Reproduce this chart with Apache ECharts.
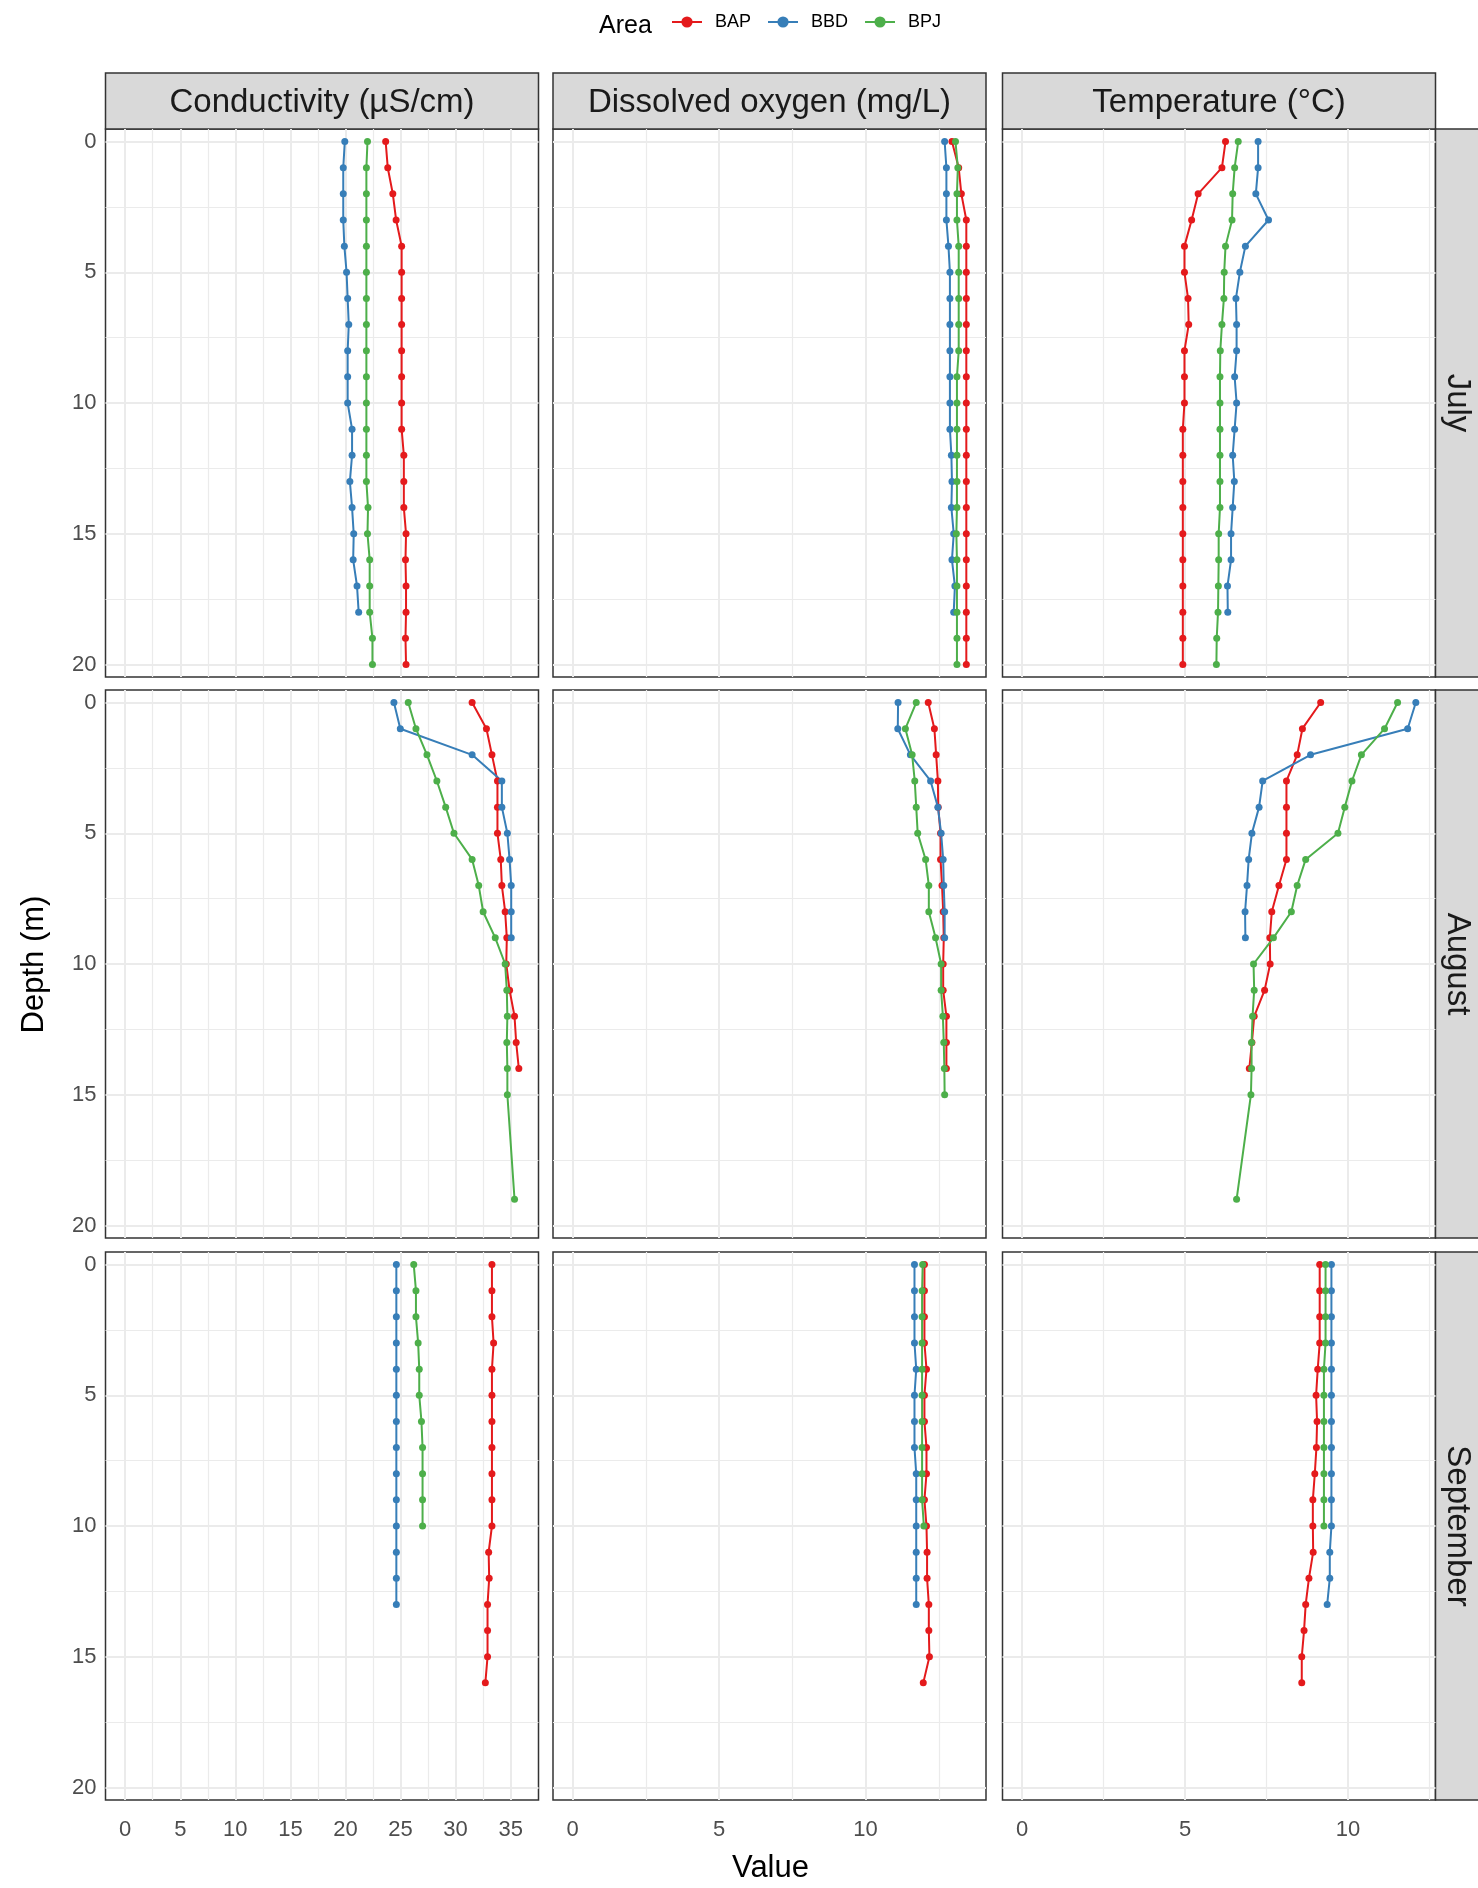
<!DOCTYPE html>
<html><head><meta charset="utf-8">
<script src="https://cdn.jsdelivr.net/npm/echarts@6/dist/echarts.min.js"></script>
<style>html,body{margin:0;padding:0;background:#fff}#chart{width:1478px;height:1888px}</style>
</head><body><div id="chart"></div>
<script>
// ---------- categories / ticks ----------
const areas = ['BAP', 'BBD', 'BPJ'];
const months = ['July', 'August', 'September'];
const variables = ['Conductivity (µS/cm)', 'Dissolved oxygen (mg/L)', 'Temperature (°C)'];
const xTicksCond = [0, 5, 10, 15, 20, 25, 30, 35];
const xTicksDO = [0, 5, 10];
const xTicksTemp = [0, 5, 10];
const yTicks = [0, 5, 10, 15, 20];

// ---------- depths (m) ----------
const depthJulBAP = [0,1,2,3,4,5,6,7,8,9,10,11,12,13,14,15,16,17,18,19,20];
const depthJulBBD = [0,1,2,3,4,5,6,7,8,9,10,11,12,13,14,15,16,17,18];
const depthJulBPJ = [0,1,2,3,4,5,6,7,8,9,10,11,12,13,14,15,16,17,18,19,20];
const depthAugBAP = [0,1,2,3,4,5,6,7,8,9,10,11,12,13,14];
const depthAugBBD = [0,1,2,3,4,5,6,7,8,9];
const depthAugBPJ = [0,1,2,3,4,5,6,7,8,9,10,11,12,13,14,15,19];
const depthAugBPJdo = [0,1,2,3,4,5,6,7,8,9,10,11,12,13,14,15];
const depthSepBAP = [0,1,2,3,4,5,6,7,8,9,10,11,12,13,14,15,16];
const depthSepBBD = [0,1,2,3,4,5,6,7,8,9,10,11,12,13];
const depthSepBPJ = [0,1,2,3,4,5,6,7,8,9,10];

// ---------- July ----------
const condJulBAP = [23.65,23.84,24.3,24.6,25.1,25.1,25.1,25.1,25.1,25.1,25.1,25.1,25.3,25.3,25.3,25.5,25.45,25.5,25.5,25.45,25.5];
const condJulBBD = [19.94,19.8,19.8,19.8,19.9,20.1,20.2,20.3,20.2,20.2,20.2,20.6,20.6,20.4,20.6,20.75,20.7,21.05,21.2];
const condJulBPJ = [22.0,21.9,21.9,21.9,21.9,21.9,21.9,21.9,21.9,21.9,21.9,21.9,21.9,21.9,22.05,22.0,22.2,22.2,22.2,22.45,22.45];
const doJulBAP = [12.95,13.18,13.27,13.44,13.44,13.44,13.44,13.44,13.44,13.44,13.44,13.44,13.44,13.44,13.44,13.44,13.44,13.44,13.44,13.44,13.44];
const doJulBBD = [12.70,12.76,12.76,12.76,12.83,12.88,12.88,12.88,12.88,12.88,12.88,12.88,12.93,12.95,12.93,13.01,12.95,13.05,13.01];
const doJulBPJ = [13.07,13.15,13.12,13.12,13.18,13.18,13.18,13.18,13.18,13.12,13.12,13.12,13.12,13.12,13.12,13.10,13.12,13.12,13.12,13.12,13.12];
const tempJulBAP = [6.24,6.13,5.40,5.20,4.98,4.98,5.09,5.11,4.98,4.98,4.98,4.93,4.93,4.93,4.93,4.93,4.93,4.93,4.93,4.93,4.93];
const tempJulBBD = [7.24,7.24,7.17,7.56,6.85,6.68,6.56,6.58,6.58,6.52,6.58,6.52,6.46,6.51,6.46,6.41,6.41,6.30,6.31];
const tempJulBPJ = [6.63,6.52,6.46,6.44,6.24,6.20,6.19,6.13,6.08,6.07,6.07,6.07,6.07,6.07,6.07,6.03,6.03,6.02,6.01,5.97,5.96];

// ---------- August ----------
const condAugBAP = [31.5,32.8,33.3,33.8,33.8,33.8,34.1,34.2,34.5,34.65,34.6,34.9,35.35,35.5,35.74];
const condAugBBD = [24.4,24.98,31.5,34.2,34.2,34.7,34.9,35.05,35.05,35.05];
const condAugBPJ = [25.7,26.4,27.4,28.3,29.1,29.85,31.5,32.1,32.5,33.6,34.5,34.65,34.7,34.65,34.7,34.7,35.35];
const doAugBAP = [12.14,12.35,12.41,12.47,12.48,12.56,12.56,12.61,12.65,12.67,12.65,12.65,12.76,12.76,12.76];
const doAugBBD = [11.11,11.10,11.53,12.22,12.47,12.58,12.65,12.67,12.70,12.70];
const doAugBPJ = [11.73,11.36,11.59,11.68,11.73,11.78,12.05,12.16,12.16,12.39,12.58,12.58,12.64,12.67,12.69,12.70];
const tempAugBAP = [9.16,8.60,8.44,8.11,8.11,8.11,8.11,7.88,7.66,7.60,7.61,7.44,7.12,7.05,6.97];
const tempAugBBD = [12.08,11.83,8.85,7.38,7.27,7.05,6.95,6.90,6.84,6.85];
const tempAugBPJ = [11.52,11.12,10.41,10.12,9.90,9.69,8.70,8.44,8.26,7.71,7.10,7.12,7.07,7.04,7.04,7.02,6.58];

// ---------- September ----------
const condSepBAP = [33.3,33.3,33.3,33.45,33.3,33.3,33.3,33.3,33.3,33.3,33.3,33.0,33.05,32.9,32.9,32.9,32.7];
const condSepBBD = [24.62,24.62,24.62,24.62,24.62,24.62,24.62,24.62,24.62,24.62,24.62,24.62,24.62,24.62];
const condSepBPJ = [26.2,26.4,26.4,26.6,26.7,26.7,26.9,27.0,27.0,27.0,27.0];
const doSepBAP = [12.01,12.01,12.01,12.01,12.08,12.01,12.01,12.08,12.08,12.01,12.08,12.10,12.10,12.16,12.16,12.18,11.97];
const doSepBBD = [11.67,11.67,11.67,11.67,11.73,11.67,11.67,11.67,11.73,11.73,11.73,11.73,11.73,11.73];
const doSepBPJ = [11.95,11.93,11.93,11.93,11.93,11.93,11.93,11.93,11.93,11.93,11.99];
const tempSepBAP = [9.13,9.13,9.13,9.13,9.07,9.02,9.05,9.03,8.98,8.92,8.92,8.93,8.80,8.70,8.65,8.58,8.58];
const tempSepBBD = [9.49,9.49,9.49,9.49,9.49,9.49,9.49,9.49,9.49,9.49,9.49,9.44,9.44,9.36];
const tempSepBPJ = [9.31,9.31,9.31,9.31,9.26,9.26,9.26,9.26,9.26,9.26,9.26];

// ---------- assemble panels: [row=month][col=variable][area] ----------
const panels = [
  [ [[depthJulBAP,condJulBAP],[depthJulBBD,condJulBBD],[depthJulBPJ,condJulBPJ]],
    [[depthJulBAP,doJulBAP],[depthJulBBD,doJulBBD],[depthJulBPJ,doJulBPJ]],
    [[depthJulBAP,tempJulBAP],[depthJulBBD,tempJulBBD],[depthJulBPJ,tempJulBPJ]] ],
  [ [[depthAugBAP,condAugBAP],[depthAugBBD,condAugBBD],[depthAugBPJ,condAugBPJ]],
    [[depthAugBAP,doAugBAP],[depthAugBBD,doAugBBD],[depthAugBPJdo,doAugBPJ]],
    [[depthAugBAP,tempAugBAP],[depthAugBBD,tempAugBBD],[depthAugBPJ,tempAugBPJ]] ],
  [ [[depthSepBAP,condSepBAP],[depthSepBBD,condSepBBD],[depthSepBPJ,condSepBPJ]],
    [[depthSepBAP,doSepBAP],[depthSepBBD,doSepBBD],[depthSepBPJ,doSepBPJ]],
    [[depthSepBAP,tempSepBAP],[depthSepBBD,tempSepBBD],[depthSepBPJ,tempSepBPJ]] ]
];
const xTicksByCol = [xTicksCond, xTicksDO, xTicksTemp];

// ---------- layout & style ----------
const FONT = '"Liberation Sans", Arial, sans-serif';
const colors = { BAP: '#E41A1C', BBD: '#377EB8', BPJ: '#4DAF4A' };
const colLeft = [105.5, 553, 1002.5];
const colWidth = 433;
const rowTop = [129, 690, 1252];
const rowHeight = 548;
const stripTop = 73, stripH = 56;
const yMin = -0.48, yMax = 20.48;

// x limits per column: data range from 0 expanded by 5 %
const xLimits = [0, 1, 2].map(c => {
  let mx = 0;
  panels.forEach(row => row[c].forEach(p => p[1].forEach(v => { if (v > mx) mx = v; })));
  return [-0.05 * mx, 1.05 * mx];
});

function minorsOf(ticks, lo, hi) {
  const step = ticks[1] - ticks[0];
  const out = [];
  for (let v = ticks[0] - step / 2; v < hi; v += step) {
    if (v > lo + 0.05 && v < hi - 0.05) out.push(v);
  }
  return out;
}

const grids = [], xAxes = [], yAxes = [], series = [];
for (let r = 0; r < 3; r++) {
  for (let c = 0; c < 3; c++) {
    const i = r * 3 + c;
    const [xlo, xhi] = xLimits[c];
    const xt = xTicksByCol[c];
    grids.push({
      left: colLeft[c], top: rowTop[r], width: colWidth, height: rowHeight,
      show: true, backgroundColor: '#fff', borderColor: '#333333', borderWidth: 1.5
    });
    xAxes.push({
      gridIndex: i, type: 'value', min: xlo, max: xhi,
      axisLine: { show: false }, splitLine: { show: false },
      axisTick: { show: r === 2, customValues: xt, length: 7, lineStyle: { color: '#333333', width: 1.5 } },
      axisLabel: { show: r === 2, customValues: xt, fontSize: 22, color: '#4D4D4D', margin: 19, fontFamily: FONT }
    });
    yAxes.push({
      gridIndex: i, type: 'value', inverse: true, min: yMin, max: yMax,
      axisLine: { show: false }, splitLine: { show: false },
      axisTick: { show: c === 0, customValues: yTicks, length: 6, lineStyle: { color: '#333333', width: 1.5 } },
      axisLabel: { show: c === 0, customValues: yTicks, fontSize: 22, color: '#4D4D4D', margin: 9, fontFamily: FONT }
    });
    // grid lines via markLines on the panel's own axes
    const ml = [];
    xt.forEach(v => ml.push({ xAxis: v, lineStyle: { width: 2 } }));
    minorsOf(xt, xlo, xhi).forEach(v => ml.push({ xAxis: v, lineStyle: { width: 1.2 } }));
    yTicks.forEach(v => ml.push({ yAxis: v, lineStyle: { width: 2 } }));
    minorsOf(yTicks, yMin, yMax).forEach(v => ml.push({ yAxis: v, lineStyle: { width: 1.2 } }));
    series.push({
      type: 'line', xAxisIndex: i, yAxisIndex: i, data: [], silent: true, z: 1,
      markLine: {
        silent: true, z: 1, zlevel: 0, symbol: ['none', 'none'], animation: false,
        label: { show: false }, emphasis: { disabled: true },
        lineStyle: { color: '#EBEBEB', type: 'solid' }, data: ml
      }
    });
    areas.forEach((a, k) => {
      const [dep, val] = panels[r][c][k];
      series.push({
        type: 'line', name: a, xAxisIndex: i, yAxisIndex: i, z: 3,
        data: val.map((v, j) => [v, dep[j]]),
        symbol: 'circle', symbolSize: 7, showSymbol: true,
        lineStyle: { color: colors[a], width: 2 },
        itemStyle: { color: colors[a] },
        emphasis: { disabled: true }, animation: false
      });
    });
  }
}

// strips and titles
const graphics = [];
for (let c = 0; c < 3; c++) {
  graphics.push({ type: 'rect', shape: { x: colLeft[c], y: stripTop, width: colWidth, height: stripH },
    style: { fill: '#D9D9D9', stroke: '#333333', lineWidth: 1.5 } });
  graphics.push({ type: 'text', x: colLeft[c] + colWidth / 2, y: stripTop + stripH / 2 + 1.5,
    style: { text: variables[c], fill: '#1A1A1A', fontSize: 33, fontFamily: FONT, align: 'center', verticalAlign: 'middle' } });
}
const stripRight = colLeft[2] + colWidth;
for (let r = 0; r < 3; r++) {
  graphics.push({ type: 'rect', shape: { x: stripRight, y: rowTop[r], width: stripH, height: rowHeight },
    style: { fill: '#D9D9D9', stroke: '#333333', lineWidth: 1.5 } });
  graphics.push({ type: 'text', x: stripRight + 22, y: rowTop[r] + rowHeight / 2, rotation: -Math.PI / 2,
    style: { text: months[r], fill: '#1A1A1A', fontSize: 33, fontFamily: FONT, align: 'center', verticalAlign: 'middle' } });
}
graphics.push({ type: 'text', x: (colLeft[0] + stripRight) / 2, y: 1868,
  style: { text: 'Value', fill: '#000', fontSize: 31, fontFamily: FONT, align: 'center', verticalAlign: 'middle' } });
graphics.push({ type: 'text', x: 34, y: (rowTop[0] + rowTop[2] + rowHeight) / 2, rotation: Math.PI / 2,
  style: { text: 'Depth (m)', fill: '#000', fontSize: 31, fontFamily: FONT, align: 'center', verticalAlign: 'middle' } });
graphics.push({ type: 'text', x: 599, y: 26,
  style: { text: 'Area', fill: '#000', fontSize: 25, fontFamily: FONT, align: 'left', verticalAlign: 'middle' } });

const chart = echarts.init(document.getElementById('chart'), null, { renderer: 'canvas' });
chart.setOption({
  animation: false,
  backgroundColor: '#fff',
  textStyle: { fontFamily: FONT },
  legend: {
    data: areas, left: 666, top: 8, itemWidth: 30, itemHeight: 14, itemGap: 16,
    textStyle: { fontSize: 18, color: '#000', fontFamily: FONT, padding: [0, 0, 0, 8] },
    selectedMode: false
  },
  grid: grids, xAxis: xAxes, yAxis: yAxes, series: series, graphic: graphics
});
</script></body></html>
